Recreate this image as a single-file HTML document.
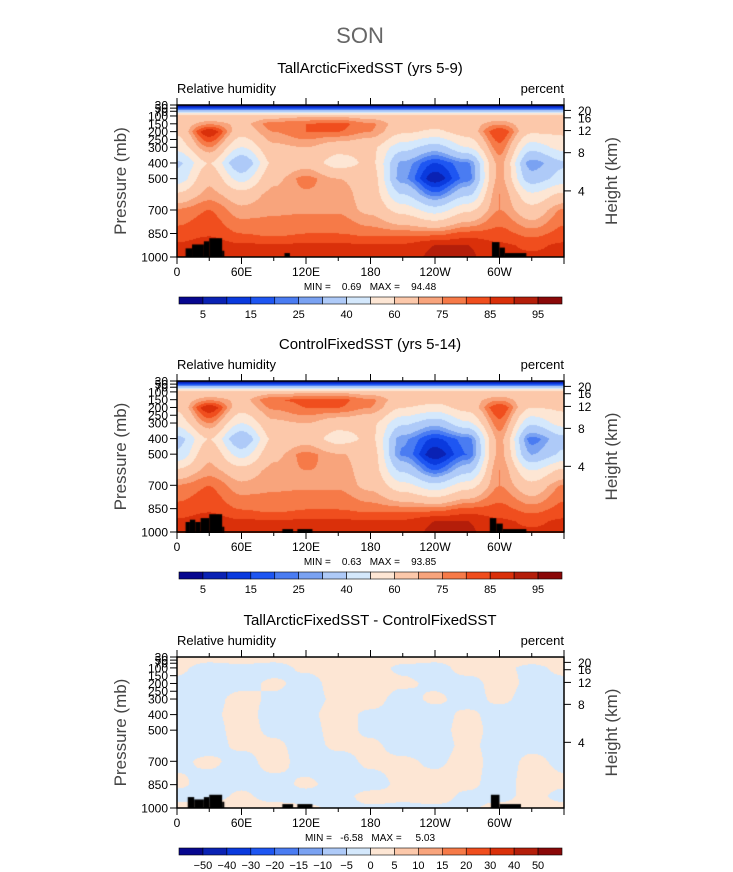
<!DOCTYPE html>
<html><head><meta charset="utf-8">
<style>
body{margin:0;background:#fff;}
#wrap{position:relative;width:733px;height:872px;overflow:hidden;font-family:"Liberation Sans",sans-serif;}
canvas{position:absolute;}
svg{position:absolute;left:0;top:0;}
.pre{white-space:pre;}
</style></head><body>
<div id="wrap">
<canvas id="c1" width="387" height="152" style="left:177px;top:105px"></canvas>
<canvas id="c2" width="387" height="152" style="left:177px;top:381px"></canvas>
<canvas id="c3" width="387" height="151" style="left:177px;top:657px"></canvas>
<svg id="ov" width="733" height="872"></svg>
</div>
<script>
const lons=[0,30,60,90,120,150,180,210,240,270,300,330,360];
const pres1=[30,50,70,90,100,150,200,300,400,500,600,700,850,925,1000];
const rh1=[
[3,3,3,3,3,3,3,3,3,3,3,3,3],
[14,14,14,14,14,14,14,14,14,14,14,14,14],
[38,38,38,38,38,38,38,38,38,38,38,38,38],
[58,58,58,58,58,58,58,58,58,58,58,58,58],
[62,62,64,66,68,68,66,62,62,62,64,62,62],
[64,74,68,78,80,82,76,66,64,66,74,64,64],
[62,90,65,75,80,80,75,62,58,65,85,62,62],
[54,75,50,68,70,64,62,44,35,50,78,44,54],
[38,60,30,62,66,55,62,28,15,24,72,26,38],
[44,68,46,68,77,70,65,26,6,22,72,34,44],
[62,72,65,72,74,74,65,40,22,38,75,52,62],
[76,80,72,74,74,74,68,56,45,58,75,64,76],
[82,84,80,78,80,80,78,78,78,82,82,78,82],
[86,88,86,86,86,86,86,86,90,90,86,84,86],
[86,86,86,88,88,88,86,88,91,91,86,86,86]];
const rh2=[
[3,3,3,3,3,3,3,3,3,3,3,3,3],
[14,14,14,14,14,14,14,14,14,14,14,14,14],
[38,38,38,38,38,38,38,38,38,38,38,38,38],
[58,58,58,58,58,58,58,58,58,58,58,58,58],
[62,62,64,66,68,68,66,62,62,62,64,62,62],
[64,74,68,80,81,82,76,66,64,66,74,64,64],
[62,90,65,76,80,80,75,60,56,64,85,60,62],
[54,75,50,68,70,64,62,42,33,48,78,42,54],
[36,60,30,62,66,55,62,26,14,22,72,22,36],
[42,68,46,68,77,71,65,24,6,20,72,30,42],
[62,72,65,72,75,74,65,38,20,36,75,50,62],
[76,80,72,74,74,74,68,54,44,56,75,64,76],
[82,84,80,78,80,80,78,78,78,82,82,78,82],
[86,88,86,86,86,86,86,86,90,90,86,84,86],
[86,86,86,88,88,88,86,88,91,91,86,86,86]];
const pres3=[30,100,200,300,400,500,600,700,850,925,1000];
const diff3=[
[2,2,2,2,2,2,2,2,2,2,2,2,2],
[1,-2,-1,-2,1,2,2,-1,-2,2,1,-1,1],
[-1,-2,-2,1,-2,2,2,1,-1,-2,2,-1,-1],
[-2,-2,2,-1,-2,1,2,-2,1,-2,1,-2,-2],
[-2,-1,2,-2,-1,2,-1,-2,-2,1,-2,-1,-2],
[-2,-2,2,-1,-2,2,-1,-2,-2,2,-2,-2,-2],
[-1,-2,1,1,-2,1,1,-2,-2,1,-2,-1,-1],
[-1,1,-2,2,-2,-2,1,1,-1,2,-2,1,-1],
[1,-2,-1,-2,1,-2,-2,1,2,1,-2,2,1],
[-2,-2,1,-2,-2,-2,2,1,2,-1,-2,2,-2],
[2,2,2,2,1,-1,-1,-1,-1,-1,2,2,2]];
const levels1=[5,10,15,20,25,30,40,50,60,70,75,80,85,90,95];
const labels1=["5","","15","","25","","40","","60","","75","","85","","95"];
const levels3=[-50,-40,-30,-20,-15,-10,-5,0,5,10,15,20,30,40,50];
const labels3=["−50","−40","−30","−20","−15","−10","−5","0","5","10","15","20","30","40","50"];
const colors=["#07078f","#0a22b4","#0a3ade","#1e56f2","#4a7cf2","#7aa2f2","#aecaf8","#d4e8fc","#fde6d4","#fcc8aa","#f8a47c","#f67a48","#f04e1e","#da300a","#b41e0a","#8a0808"];
const land1=[[8,14,945],[14,25,920],[25,30,900],[30,42,880],[42,44,960],[100,105,975],[293,300,905],[300,305,940],[305,325,975]];
const land2=[[8,12,930],[12,17,915],[17,22,930],[22,30,905],[30,42,880],[42,44,960],[98,108,975],[112,126,975],[291,297,905],[297,303,940],[303,325,975]];
const land3=[[10,16,930],[16,25,945],[25,30,930],[30,42,915],[42,44,960],[98,108,975],[112,126,975],[292,300,915],[300,320,975]];

const X0=177,W=387;
function xOf(lon){return X0+lon/360*W;}
function interp(P,G,lon,p){
  let i=Math.min(11,Math.floor(lon/30)),fx=(lon-lons[i])/30;
  let j=0;while(j<P.length-2&&p>P[j+1])j++;
  let fy=(p-P[j])/(P[j+1]-P[j]);fy=Math.max(0,Math.min(1,fy));
  fx=fx*fx*(3-2*fx);
  const a=G[j][i]*(1-fx)+G[j][i+1]*fx,b=G[j+1][i]*(1-fx)+G[j+1][i+1]*fx;
  return a*(1-fy)+b*fy;
}
function idx(v,L){let k=0;while(k<L.length&&v>=L[k])k++;return k;}
function hex(c){return [parseInt(c.substr(1,2),16),parseInt(c.substr(3,2),16),parseInt(c.substr(5,2),16)];}
const rgb=colors.map(hex);
function draw(id,P,G,L,land){
  const cv=document.getElementById(id),ctx=cv.getContext('2d');
  const w=cv.width,h=cv.height,img=ctx.createImageData(w,h);
  for(let y=0;y<h;y++){const p=30+(y+0.5)/h*970;
    for(let x=0;x<w;x++){const lon=(x+0.5)/w*360;
      const c=rgb[idx(interp(P,G,lon,p),L)],o=(y*w+x)*4;
      img.data[o]=c[0];img.data[o+1]=c[1];img.data[o+2]=c[2];img.data[o+3]=255;}}
  ctx.putImageData(img,0,0);
  ctx.fillStyle='#000';
  land.forEach(b=>{const x0=b[0]/360*w,x1=b[1]/360*w,y0=(b[2]-30)/970*h;ctx.fillRect(x0,y0,x1-x0,h-y0);});
}
draw('c1',pres1,rh1,levels1,land1);
draw('c2',pres1,rh2,levels1,land2);
draw('c3',pres3,diff3,levels3,land3);

const NS='http://www.w3.org/2000/svg',ov=document.getElementById('ov');
function el(t,a,txt){const e=document.createElementNS(NS,t);for(const k in a)e.setAttribute(k,a[k]);if(txt!==undefined)e.textContent=txt;ov.appendChild(e);return e;}
let t=el('text',{x:360,y:43,'font-size':22,'text-anchor':'middle',fill:'#666'},'SON');


const panels=[{top:105,h:152,title:'TallArcticFixedSST (yrs 5-9)',ty:73,mm:'MIN =    0.69   MAX =    94.48',L:labels1},
{top:381,h:151,title:'ControlFixedSST (yrs 5-14)',ty:349,mm:'MIN =    0.63   MAX =    93.85',L:labels1},
{top:657,h:151,title:'TallArcticFixedSST - ControlFixedSST',ty:625,mm:'MIN =   -6.58   MAX =     5.03',L:labels3}];
const ptick=[30,50,70,100,150,200,250,300,400,500,700,850,1000];
const plab=['30','50','70','100','150','200','250','300','400','500','700','850','1000'];
const zt=[20,16,12,8,4];
const lonLab=['0','60E','120E','180','120W','60W'];
panels.forEach((P,n)=>{
  const y0=P.top,h=P.h,y1=y0+h;
  t=el('text',{x:370,y:P.ty,'font-size':15,'text-anchor':'middle',fill:'#000'},P.title);
  
  
  t=el('text',{x:177,y:y0-12,'font-size':13,fill:'#000'},'Relative humidity');
  
  
  t=el('text',{x:564,y:y0-12,'font-size':13,'text-anchor':'end',fill:'#000'},'percent');
  
  
  const r=el('rect',{x:X0,y:y0,width:W,height:h,fill:'none',stroke:'#000','stroke-width':1.5});
  
  
  for(let k=0;k<=12;k++){const x=xOf(k*30),len=k%2?4:7;
    el('line',{x1:x,y1:y1,x2:x,y2:y1+len,stroke:'#000'});
    el('line',{x1:x,y1:y0,x2:x,y2:y0-len,stroke:'#000'});
    if(k%2==0&&k<12){t=el('text',{x:x,y:y1+19,'font-size':12,'text-anchor':'middle',fill:'#000'},lonLab[k/2]);
      
      }}
  ptick.forEach((p,i)=>{const y=y0+(p-30)/970*h;
    el('line',{x1:X0,y1:y,x2:X0-7,y2:y,stroke:'#000'});
    t=el('text',{x:X0-9,y:y+4.5,'font-size':12,'text-anchor':'end',fill:'#000'},plab[i]);
    
    });
  zt.forEach(z=>{const p=1000*Math.exp(-z/7.3),y=y0+(p-30)/970*h;
    el('line',{x1:X0+W,y1:y,x2:X0+W+7,y2:y,stroke:'#000'});
    t=el('text',{x:X0+W+14,y:y+4.5,'font-size':12,fill:'#000'},String(z));
    
    });
  const cy=y0+h/2;
  t=el('text',{x:126,y:cy,'font-size':17,'text-anchor':'middle',fill:'#444',transform:'rotate(-90 126 '+cy+')'},'Pressure (mb)');
  
  
  t=el('text',{x:617,y:cy,'font-size':17,'text-anchor':'middle',fill:'#444',transform:'rotate(-90 617 '+cy+')'},'Height (km)');
  
  
  t=el('text',{x:370,y:y1+33,'font-size':10,'text-anchor':'middle',fill:'#000','class':'pre'},P.mm);
  
  
  const by=y1+40,bx=179,bw=383/16;
  colors.forEach((c,i)=>{const b=el('rect',{x:bx+i*bw,y:by,width:bw,height:7,fill:c,stroke:'#000','stroke-width':0.6});
    
    });
  P.L.forEach((lab,i)=>{if(!lab)return;
    t=el('text',{x:bx+(i+1)*bw,y:by+21,'font-size':11,'text-anchor':'middle',fill:'#000'},lab);
    
    });
});
</script>
</body></html>
